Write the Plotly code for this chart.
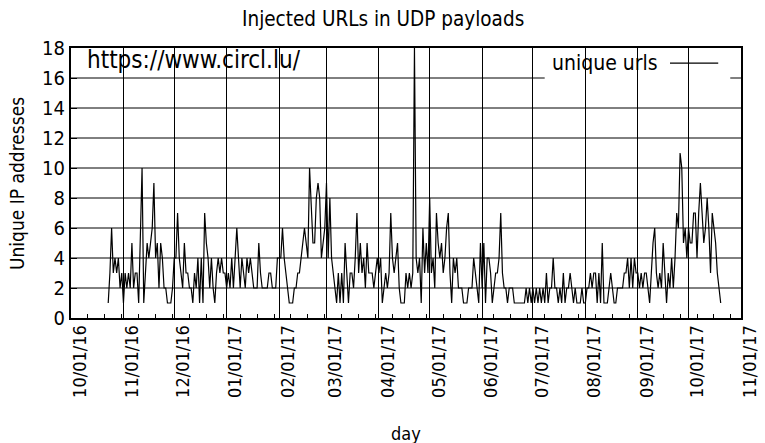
import pandas as pd
import plotly.graph_objects as go

# ---- data: daily count of unique IP addresses sending injected URLs ----
start_date = "2016-10-23"

counts_oct_jan = [1, 3, 6, 3, 4, 3, 4, 2, 3, 1,
                  3, 2, 3, 2, 5, 2, 3, 3, 1, 5,
                  10, 1, 3, 5, 4, 5, 6, 9, 4, 5,
                  2, 5, 4, 2, 2, 1, 1, 1, 2, 4,
                  4, 7, 4, 3, 2, 5, 3, 3, 2, 2,
                  1, 3, 2, 4, 1, 4, 1, 7, 5, 4,
                  2, 4, 2, 1, 3, 4, 3, 4, 3, 3,
                  2, 3, 2, 4, 2, 4, 6, 4, 2, 4,
                  3, 2, 4, 3, 4, 3, 2, 2, 2, 5,
                  3]
counts_jan_apr = [2, 2, 2, 2, 3, 3, 2, 2, 2, 4,
                  4, 4, 6, 4, 3, 2, 1, 1, 1, 2,
                  2, 3, 3, 4, 5, 6, 5, 4, 10, 7,
                  5, 5, 8, 9, 8, 4, 5, 6, 9, 4,
                  8, 4, 3, 2, 1, 3, 1, 3, 1, 5,
                  3, 1, 3, 3, 2, 4, 7, 3, 5, 3,
                  4, 2, 5, 3, 3, 3, 2, 3, 4, 3,
                  4, 1, 2, 3, 2, 3, 7, 4, 3, 4,
                  5, 2, 1, 1, 1, 3, 2, 3, 2, 3]
counts_apr_jul = [18, 4, 3, 4, 1, 6, 3, 5, 3, 8,
                  3, 4, 2, 7, 5, 4, 5, 3, 4, 6,
                  7, 3, 1, 4, 3, 4, 2, 2, 2, 1,
                  1, 1, 2, 2, 2, 4, 3, 2, 1, 5,
                  2, 5, 1, 4, 4, 3, 1, 2, 3, 3,
                  4, 7, 3, 2, 2, 1, 2, 2, 2, 1,
                  1, 1, 1, 1, 1, 1, 2, 1, 2, 1,
                  2, 1, 2, 1, 2, 1, 2, 1, 3, 1,
                  2, 2, 4, 2, 2, 1, 2, 1, 3, 1,
                  2, 2, 3]
counts_jul_oct = [2, 1, 2, 1, 1, 1, 2, 1, 1, 2,
                  2, 3, 2, 3, 3, 1, 3, 1, 5, 1,
                  1, 1, 2, 3, 2, 1, 1, 2, 2, 2,
                  2, 3, 3, 4, 2, 4, 2, 4, 3, 3,
                  2, 3, 2, 3, 3, 2, 1, 3, 5, 6,
                  3, 2, 3, 2, 5, 3, 1, 3, 2, 4,
                  2, 4, 7, 6, 11, 10, 5, 6, 4, 6,
                  5, 5, 7, 7, 4, 7, 9, 7, 5, 6,
                  8, 6, 3, 7, 6, 5, 3, 2, 1]

values = counts_oct_jan + counts_jan_apr + counts_apr_jul + counts_jul_oct
days = pd.date_range(start_date, periods=len(values), freq="D")

x_range = ["2016-10-01", "2017-11-01"]
y_ticks = list(range(0, 19, 2))

title_text = "Injected URLs in UDP payloads"
x_title = "day"
y_title = "Unique IP addresses"
series_name = "unique urls"
source_text = "https://www.circl.lu/"

FONT = "DejaVu Sans Condensed, DejaVu Sans, sans-serif"

fig = go.Figure()
fig.add_trace(go.Scatter(x=days, y=values, mode="lines", name=series_name,
                         line=dict(color="black", width=1.2), showlegend=False))

# horizontal grid lines (the one at 16 is interrupted behind the key)
shapes = []
for v in y_ticks[1:-1]:
    if v == 16:
        segs = [(0, 0.707), (0.984, 1)]
    else:
        segs = [(0, 1)]
    for a, b in segs:
        shapes.append(dict(type="line", xref="paper", yref="y", x0=a, x1=b,
                           y0=v, y1=v, line=dict(color="black", width=1),
                           layer="below"))
# key sample line
shapes.append(dict(type="line", xref="paper", yref="paper", x0=0.894, x1=0.966,
                   y0=0.944, y1=0.944, line=dict(color="black", width=1.2)))

fig.update_layout(
    width=765, height=443,
    margin=dict(l=71, r=24, t=48, b=125, autoexpand=False),
    paper_bgcolor="white", plot_bgcolor="white",
    font=dict(family=FONT, size=18, color="black"),
    shapes=shapes,
    annotations=[
        dict(text=title_text, xref="paper", yref="paper", x=0.465, y=1.107,
             xanchor="center", yanchor="middle", showarrow=False,
             font=dict(size=20.5)),
        dict(text=source_text, xref="paper", yref="paper", x=0.021, y=0.956,
             xanchor="left", yanchor="middle", showarrow=False,
             font=dict(size=24)),
        dict(text=series_name, xref="paper", yref="paper", x=0.879, y=0.944,
             xanchor="right", yanchor="middle", showarrow=False,
             font=dict(size=21)),
        dict(text=y_title, xref="paper", yref="paper", x=-0.0806, y=0.5,
             textangle=-90, xanchor="center", yanchor="middle",
             showarrow=False, font=dict(size=19)),
        dict(text=x_title, xref="paper", yref="paper", x=0.5, y=-0.426,
             xanchor="center", yanchor="middle", showarrow=False,
             font=dict(size=18)),
    ],
)

fig.update_xaxes(type="date", range=x_range, tick0=x_range[0], dtick="M1",
                 tickformat="%m/%d/%y", tickangle=-90, automargin=False,
                 ticklabelshift=9, ticklabelstandoff=-2,
                 showgrid=True, gridcolor="black", gridwidth=1,
                 ticks="inside", ticklen=6, tickcolor="black",
                 showline=True, linecolor="black", linewidth=2, mirror=True,
                 zeroline=False, tickfont=dict(size=18),
                 minor=dict(dtick=10 * 86400000, tick0=x_range[0],
                            ticks="inside", ticklen=4, tickcolor="black",
                            showgrid=False))
fig.update_yaxes(range=[0, 18], tickvals=y_ticks, showgrid=False,
                 automargin=False,
                 ticks="inside", ticklen=6, tickcolor="black",
                 showline=True, linecolor="black", linewidth=2, mirror=True,
                 zeroline=False, tickfont=dict(size=20))

fig.write_html("out.html", config={"displayModeBar": False},
               post_script="document.body.style.margin='0';"
                           "document.body.style.overflow='hidden';")
